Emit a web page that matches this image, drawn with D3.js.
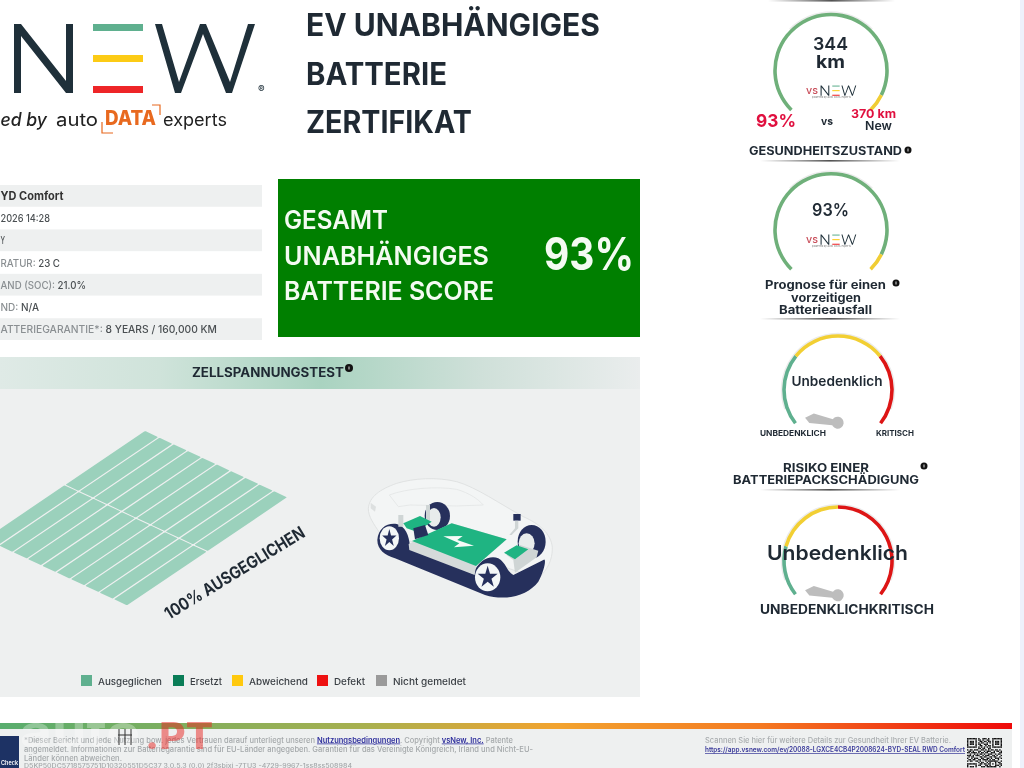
<!DOCTYPE html>
<html lang="de">
<head>
<meta charset="utf-8">
<title>EV Batterie Zertifikat</title>
<script src="https://cdn.jsdelivr.net/npm/d3@7"></script>
<style>
html,body{margin:0;padding:0;background:#fff;overflow:hidden}
svg{display:block;font-family:Inter,"Noto Sans",sans-serif;filter:blur(.4px)}
</style>
</head>
<body>
<script>
// ---------- data ----------
const titleLines = ["EV UNABHÄNGIGES", "BATTERIE", "ZERTIFIKAT"];
const scoreLines = ["GESAMT", "UNABHÄNGIGES", "BATTERIE SCORE"];
const overallScore = 93;
const infoOrder = [0, 1, 2, 3, 4, 5, 6];
const infoRowLabels = ["", "", "", "RATUR: ", "AND (SOC): ", "ND: ", "ATTERIEGARANTIE*: "];
const infoRowValues = ["YD Comfort", "2026 14:28", "Y", "23 C", "21.0%", "N/A", "8 YEARS / 160,000 KM"];
const healthValue = 93, prognosisValue = 93;
const rangeNow = "344", rangeNew = "370 km";
const riskBandsBattery = [30, 70, 100];
const riskBandsPack = [21, 50, 100];
const legendNames = ["Ausgeglichen", "Ersetzt", "Abweichend", "Defekt", "Nicht gemeldet"];
const gridSections = ["A", "B"];
const gridStrips = ["1","2","3","4","5","6","7","8","9","10"];
const footerLeft = [
  "*Dieser Bericht und jede Nutzung bow. jedes Vertrauen darauf unterliegt unseren ",
  "angemeldet. Informationen zur Batteriegarantie sind für EU-Länder angegeben. Garantien für das Vereinigte Königreich, Irland und Nicht-EU-",
  "Länder können abweichen.",
  "D5KP50DC5718575751D10320551D5C37 3.0.5.3 (0.0) 2f3sbixj -7TU3 -4729-9967-1ss8ss508984"
];
const qrRows = [
"1111111010011101001111111","1000001011010011001000001","1011101001101101101011101","1011101010110010101011101",
"1011101011001110001011101","1000001001100101101000001","1111111010101010101111111","0000000011011001100000000",
"1011011100110101011011010","0110100011001011100101101","1101111010110110011100011","0010010101101001110010110",
"1110101110010111001101001","0101100001101100110110010","1001011100110011010011101","0110110011011110101100100",
"1011001101000101111111001","0000000010110010100010110","1111111001101101101010011","1000001011000110100011101",
"1011101000111011111110010","1011101011010100101001101","1011101010101111000110100","1000001001011010011011011",
"1111111011100101110100110"
];

// ---------- helpers ----------
const W = 1024, H = 768, INK = "#1f2933";
const svg = d3.select("body").append("svg").attr("width", W).attr("height", H).attr("viewBox", `0 0 ${W} ${H}`);
const defs = svg.append("defs");
const rad = d => d * Math.PI / 180;
function label(parent, str, x, y, size, weight, fill, opt = {}) {
  const t = parent.append("text").attr("x", x).attr("y", y).attr("font-size", size)
    .attr("font-weight", weight).attr("fill", fill).text(str);
  if (opt.anchor) t.attr("text-anchor", opt.anchor);
  if (opt.w) t.attr("textLength", opt.w).attr("lengthAdjust", "spacingAndGlyphs");
  if (opt.style) t.attr("font-style", opt.style);
  return t;
}
function hGrad(id, stops) {
  const g = defs.append("linearGradient").attr("id", id);
  stops.forEach(([o, c, a]) => g.append("stop").attr("offset", o).attr("stop-color", c).attr("stop-opacity", a === undefined ? 1 : a));
}
hGrad("hdr", [[0, "#dfeae6"], [.25, "#cfe3da"], [.5, "#a9d3c0"], [.75, "#cfe0d9"], [1, "#eaeded"]]);
hGrad("div", [[0, "#444", 0], [.5, "#333", .85], [1, "#444", 0]]);
hGrad("bar", [[0, "#58ad6e"], [.36, "#a8b04e"], [.55, "#f2a32f"], [.75, "#f47a22"], [1, "#ee0a0a"]]);

// ---------- page background ----------
svg.append("rect").attr("width", W).attr("height", H).attr("fill", "#ffffff");
svg.append("rect").attr("x", 1020).attr("width", 4).attr("height", H).attr("fill", "#eef1fb");

// ---------- brand logo ----------
function drawNew(g) {
  g.append("path").attr("d", "M14,93V24H21L66,81V24H73V93H66L21,36V93Z").attr("fill", "#1f303a");
  [["#5fb08f", 24], ["#fccb15", 55], ["#ee2528", 86]].forEach(([c, y]) =>
    g.append("rect").attr("x", 93).attr("y", y).attr("width", 50).attr("height", 7).attr("fill", c));
  g.append("path").attr("d", "M155,24H162L179,82L200,24H206L230,82L248,24H255L232,93H226L203,34L181,93H175Z").attr("fill", "#1f303a");
}
const logo = svg.append("g");
drawNew(logo);
label(logo, "®", 258, 93, 10, 600, "#1f303a");
label(logo, "ed by", 0.5, 126, 18, 500, "#222", { w: 46.5, style: "italic" });
label(logo, "auto", 56, 126, 18, 400, "#222", { w: 42 });
label(logo, "DATA", 105, 125, 20, 800, "#e8691f", { w: 51 });
label(logo, "experts", 163, 126, 18, 400, "#222", { w: 64 });
logo.append("path").attr("d", "M152,105H160V115M102,122V133H113").attr("fill", "none").attr("stroke", "#e8691f").attr("stroke-width", 1.2);

// ---------- title ----------
const titleY = d3.scalePoint().domain(titleLines).range([36, 133]);
const titleW = [294, 141, 166];
titleLines.forEach((s, i) => label(svg, s, 306, titleY(s), 31, 700, INK, { w: titleW[i] }));

// ---------- info table ----------
const rowY = d3.scaleBand().domain(infoOrder).range([185, 340]).paddingInner(0.02);
const rowEnd = [63.5, 50, 5, 60, 86, 39, 217];
infoOrder.forEach(i => {
  if (i % 2 === 0) svg.append("rect").attr("x", 0).attr("y", rowY(i)).attr("width", 262).attr("height", rowY.bandwidth()).attr("fill", "#eef0f0");
  const t = svg.append("text").attr("x", 0.5).attr("y", rowY(i) + rowY.bandwidth() / 2 + 4)
    .attr("font-size", i === 0 ? 11.5 : 10.5).attr("font-weight", i === 0 ? 700 : 500)
    .attr("textLength", rowEnd[i] - 0.5).attr("lengthAdjust", "spacingAndGlyphs");
  t.append("tspan").attr("fill", "#8a8f92").text(infoRowLabels[i]);
  t.append("tspan").attr("fill", i === 0 ? "#333" : "#4a4f52").text(infoRowValues[i]);
});

// ---------- score box ----------
svg.append("rect").attr("x", 278).attr("y", 179).attr("width", 362).attr("height", 158).attr("fill", "#007f00");
const scoreY = d3.scalePoint().domain(scoreLines).range([229, 300]);
const scoreW = [104, 205, 210];
scoreLines.forEach((s, i) => label(svg, s, 284, scoreY(s), 26, 600, "#f4fbf2", { w: scoreW[i] }));
label(svg, overallScore + "%", 544, 270, 45, 700, "#f4fbf2", { w: 90 });

// ---------- cell voltage panel ----------
svg.append("rect").attr("x", 0).attr("y", 357).attr("width", 640).attr("height", 340).attr("fill", "#eef0f0");
svg.append("rect").attr("x", 0).attr("y", 357).attr("width", 640).attr("height", 32).attr("fill", "url(#hdr)");
label(svg, "ZELLSPANNUNGSTEST", 192, 377, 13, 700, INK, { w: 152 });
function infoDot(x, y, r) {
  svg.append("circle").attr("cx", x).attr("cy", y).attr("r", r).attr("fill", "#111");
  svg.append("rect").attr("x", x - .5).attr("y", y - 1.5).attr("width", 1).attr("height", 3).attr("fill", "#ddd");
}
infoDot(349, 368, 4);

// battery grid, isometric
const sectionX = d3.scaleBand().domain(gridSections).range([0, 160]).paddingInner(0.012);
const stripY = d3.scaleBand().domain(gridStrips).range([0, 142]).paddingInner(0.09);
const grid = svg.append("g").attr("transform", "matrix(-1,0.675,1,0.467,145,431)");
gridSections.forEach(sec => {
  grid.selectAll(null).data(gridStrips).join("rect")
    .attr("x", sectionX(sec)).attr("y", d => stripY(d))
    .attr("width", sectionX.bandwidth()).attr("height", stripY.bandwidth())
    .attr("rx", .8).attr("fill", "#9bd1bc");
});
label(svg, "100% AUSGEGLICHEN", 0, 0, 17, 700, INK, { w: 161 }).attr("transform", "translate(169,620) rotate(-31.5)");

// car illustration
const car = svg.append("g").attr("transform", "translate(350,460) scale(.3333)");
const poly = (d, fill, extra = {}) => { const p = car.append("path").attr("d", d).attr("fill", fill); Object.entries(extra).forEach(([k, v]) => p.attr(k, v)); return p; };
poly("M55,145C58,110 90,88 140,70C190,55 260,50 320,65C380,82 450,132 520,170C570,192 603,222 607,262C608,300 592,330 565,355L400,300L90,220C70,190 55,170 55,145Z", "#f3f5f5", { stroke: "#dcdfdf", "stroke-width": 2.5 });
poly("M118,105C170,85 260,78 320,88C360,100 385,118 400,135L320,138L180,135L145,140Z", "none", { stroke: "#e3e6e6", "stroke-width": 2.5 });
poly("M62,128L78,140L75,155L62,145Z", "#dde0e0");
// far wheels
car.append("ellipse").attr("cx", 262).attr("cy", 168).attr("rx", 38).attr("ry", 42).attr("fill", "#26305c");
car.append("ellipse").attr("cx", 252).attr("cy", 172).attr("rx", 20).attr("ry", 28).attr("fill", "#e8ecec");
car.append("ellipse").attr("cx", 545).attr("cy", 245).attr("rx", 42).attr("ry", 50).attr("fill", "#26305c");
car.append("ellipse").attr("cx", 530).attr("cy", 250).attr("rx", 24).attr("ry", 30).attr("fill", "#e8ecec");
// chassis base
poly("M82,240C85,205 110,188 140,192C165,198 178,225 180,262L370,342C385,300 420,285 445,295C470,310 470,335 490,345L580,300C590,290 585,330 565,365C535,405 470,425 405,405L135,295C105,285 82,270 82,240Z", "#26305c");
// frame and battery
poly("M145,165H160V200H145ZM228,135H240V185H228Z", "#cfd5d5");
poly("M176,252L305,190L470,238L378,318L374,345L178,270Z", "#d5dada");
poly("M186,243L305,190L470,238L378,318Z", "#1fb482");
poly("M160,190L210,168L245,185L200,215L170,205Z", "#1fb482");
poly("M190,205L225,195L235,225L195,238Z", "#26305c");
poly("M470,285L510,255L565,272L560,292L495,338L490,300Z", "#cfd5d5");
poly("M462,278L500,256L535,268L495,298Z", "#1fb482");
poly("M280,229L338,228L322,240L372,257L312,262L328,250Z", "#f5fbf8");
poly("M490,162H512V182H490Z", "#26305c");
poly("M495,182H505V205L485,225H478L495,205Z", "#cfd5d5");
// near wheels with hubs
[[118, 235, 29, 36], [413, 352, 38, 42]].forEach(([x, y, rx, ry]) => {
  car.append("ellipse").attr("cx", x).attr("cy", y).attr("rx", rx).attr("ry", ry).attr("fill", "#f4f7f7");
  car.append("path").attr("d", d3.symbol(d3.symbolStar, rx * ry * 0.85)()).attr("fill", "#26305c")
    .attr("transform", `translate(${x},${y}) scale(${rx / ry},1)`);
});

// legend
const legendColor = d3.scaleOrdinal(legendNames, ["#5fb08f", "#0a7d57", "#ffc90e", "#ee1111", "#9a9a9a"]);
const legendX = d3.scaleOrdinal(legendNames, [81, 173, 232, 317, 376]);
const legendW = d3.scaleOrdinal(legendNames, [64, 32, 59, 31, 73]);
legendNames.forEach(n => {
  svg.append("rect").attr("x", legendX(n)).attr("y", 675).attr("width", 11).attr("height", 11).attr("fill", legendColor(n));
  label(svg, n, legendX(n) + 17, 684.5, 9.5, 500, "#3a3f44", { w: legendW(n) });
});

// ---------- gauges ----------
const gaugeAngle = d3.scaleLinear().domain([0, 100]).range([rad(-135), rad(135)]);
const riskAngle = d3.scaleLinear().domain([0, 100]).range([rad(-128), rad(128)]);
function gauge(cx, cy, r, scale, bands, colors, haloDeg) {
  const g = svg.append("g").attr("transform", `translate(${cx},${cy})`);
  g.append("path").attr("d", d3.arc()({ innerRadius: r, outerRadius: r + 3.2, startAngle: rad(-haloDeg), endAngle: rad(haloDeg) })).attr("fill", "#ececec");
  let prev = 0;
  bands.forEach((b, i) => {
    g.append("path").attr("d", d3.arc()({ innerRadius: r - 1.8, outerRadius: r + 1.8, startAngle: scale(prev), endAngle: scale(b) })).attr("fill", colors[i]);
    prev = b;
  });
}
function miniLogo(x, y) {
  label(svg, "vs", x - 1, y + 9, 10.5, 500, "#c9505c", { w: 12 });
  const g = svg.append("g").attr("transform", `translate(${x + 11.5},${y - 3}) scale(.148)`);
  drawNew(g);
  label(svg, "powered by auto DATA experts", x + 5, y + 13, 2.6, 500, "#888", { w: 39 });
}
gauge(831, 70.5, 56, gaugeAngle, [healthValue, 100], ["#6fb07a", "#f0cd34"], 45);
gauge(831, 229.7, 56, gaugeAngle, [prognosisValue, 100], ["#6fb07a", "#f0cd34"], 45);
gauge(838, 390, 54, riskAngle, riskBandsBattery, ["#5fb08f", "#f2cf33", "#dd1515"], 110);
gauge(838, 561, 54, riskAngle, riskBandsPack, ["#5fb08f", "#f2cf33", "#dd1515"], 110);

label(svg, rangeNow, 813, 50, 17.5, 600, INK, { w: 35 });
label(svg, "km", 816, 68, 17.5, 700, INK, { w: 29 });
miniLogo(807, 85);
label(svg, healthValue + "%", 756, 127, 18, 700, "#e0103f", { w: 40 });
label(svg, "vs", 821, 125, 11, 700, INK, { w: 12 });
label(svg, rangeNew, 851, 118, 11.5, 700, "#e0103f", { w: 45 });
label(svg, "New", 865, 130, 11.5, 600, INK, { w: 27 });
label(svg, "GESUNDHEITSZUSTAND", 749, 155, 11.5, 700, INK, { w: 153 });
infoDot(908, 150, 3.5);
label(svg, prognosisValue + "%", 812, 216, 17, 600, INK, { w: 37 });
miniLogo(807, 234);
label(svg, "Prognose für einen", 765, 289, 11.5, 700, INK, { w: 121 });
label(svg, "vorzeitigen", 791, 302, 11.5, 700, INK, { w: 70 });
label(svg, "Batterieausfall", 779, 314, 11.5, 700, INK, { w: 93 });
infoDot(896, 283, 3.5);

label(svg, "Unbedenklich", 791.5, 386, 13.5, 600, INK, { w: 91 });
label(svg, "UNBEDENKLICH", 760, 436, 7.5, 700, INK, { w: 66 });
label(svg, "KRITISCH", 876, 436, 7.5, 700, INK, { w: 38 });
label(svg, "RISIKO EINER", 783, 472, 12, 700, INK, { w: 86 });
label(svg, "BATTERIEPACKSCHÄDIGUNG", 733, 484, 12, 700, INK, { w: 186 });
infoDot(924, 466, 3.5);
label(svg, "Unbedenklich", 767, 560, 20, 600, INK, { w: 141 });
label(svg, "UNBEDENKLICHKRITISCH", 760, 614, 12.5, 700, INK, { w: 174 });

function needle(x, y) {
  const g = svg.append("g").attr("transform", `translate(${x},${y}) rotate(8.7)`);
  g.append("path").attr("d", "M0,-2L-25,-5.5L-33,0L-28,4.5L0,3Z").attr("fill", "#bdbdbd");
  g.append("circle").attr("r", 6).attr("fill", "#bdbdbd");
}
needle(837.7, 422.7);
needle(837.7, 595.3);

[[0, 768, 127], [160, 760, 140], [318, 760, 140], [489, 760, 140]].forEach(([y, x, w]) =>
  svg.append("rect").attr("x", x).attr("y", y).attr("width", w).attr("height", 1.6).attr("fill", "url(#div)"));

// ---------- footer ----------
svg.append("rect").attr("x", 0).attr("y", 729).attr("width", 1012).attr("height", 39).attr("fill", "#eef0f0");
svg.append("rect").attr("x", 0).attr("y", 723).attr("width", 1012).attr("height", 6).attr("fill", "url(#bar)");
svg.append("rect").attr("x", 0).attr("y", 736).attr("width", 19).attr("height", 32).attr("fill", "#1d3264");
label(svg, "Check", 1, 765, 5.5, 600, "#fff");
const fy = [742.5, 751.5, 760.5, 768];
const fx = [24, 24, 24, 24];
const t0 = label(svg, footerLeft[0], fx[0], fy[0], 7.6, 500, "#a4a8aa");
t0.append("tspan").attr("fill", "#2d2d9c").attr("text-decoration", "underline").attr("font-weight", 600).text("Nutzungsbedingungen");
t0.append("tspan").text(". Copyright ");
t0.append("tspan").attr("fill", "#2d2d9c").attr("text-decoration", "underline").attr("font-weight", 600).text("vsNew, Inc.");
t0.append("tspan").text(" Patente");
t0.attr("textLength", 489).attr("lengthAdjust", "spacingAndGlyphs");
label(svg, footerLeft[1], fx[1], fy[1], 7.6, 500, "#a4a8aa", { w: 509 });
label(svg, footerLeft[2], fx[2], fy[2], 7.4, 500, "#a4a8aa", { w: 98 });
label(svg, footerLeft[3], fx[3], fy[3], 6.2, 500, "#a4a8aa", { w: 328 });
label(svg, "Scannen Sie hier für weitere Details zur Gesundheit Ihrer EV Batterie.", 705, 743, 7.6, 500, "#a9adaf", { w: 246 });
label(svg, "https://app.vsnew.com/ev/20088-LGXCE4CB4P2008624-BYD-SEAL RWD Comfort", 705, 752, 7.2, 600, "#3a3a9a", { w: 260 }).attr("text-decoration", "underline");

// QR code
const qrX = d3.scaleBand().domain(d3.range(25)).range([967, 1002]);
qrRows.forEach((row, j) => row.split("").forEach((b, i) => {
  if (b === "1" && 738 + j * 1.4 < H - 1) svg.append("rect").attr("x", qrX(i)).attr("y", 738 + j * 1.4).attr("width", qrX.bandwidth()).attr("height", 1.4).attr("fill", "#111");
}));

// watermark
label(svg, "auto", 20, 747, 44, 700, "#ffffff", { w: 120 }).attr("fill-opacity", .3);
label(svg, ".PT", 145, 749, 37, 800, "#e8231f", { w: 68 }).attr("fill-opacity", .5);
svg.append("path").attr("d", "M119,729V745M125,729V745M131,729V745M118,735H132").attr("stroke", "#333").attr("stroke-width", 1).attr("fill", "none");
</script>
</body>
</html>
